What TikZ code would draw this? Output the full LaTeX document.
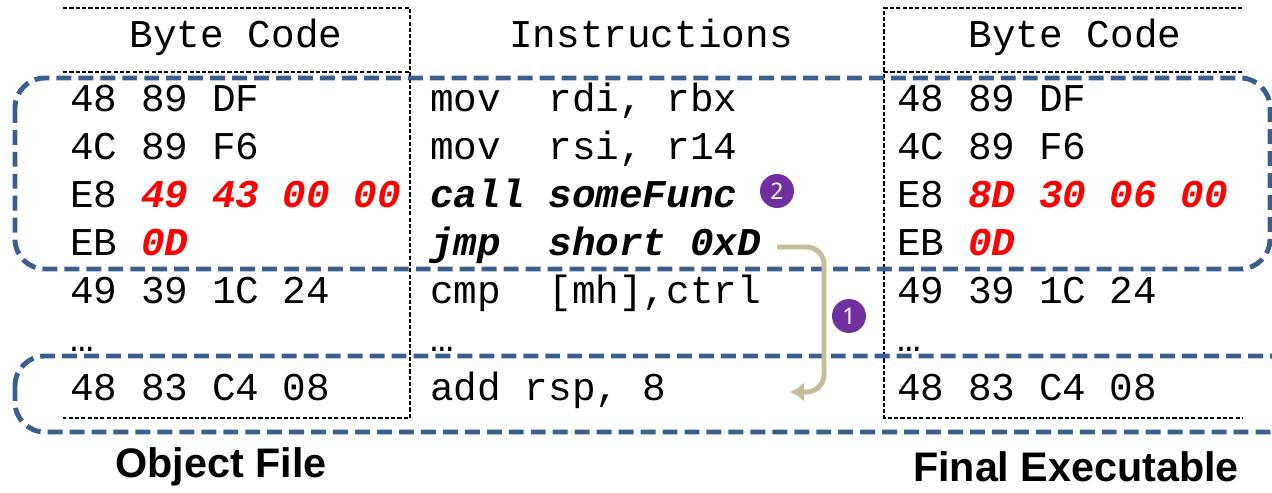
\documentclass[tikz,border=0pt]{standalone}
\usepackage{fontspec}
\setmainfont{Noto Sans}
\setsansfont{Noto Sans}
\setmonofont{Liberation Mono}
\newfontfamily\titlefont{Liberation Sans}
\usetikzlibrary{arrows.meta}
\definecolor{frameblue}{HTML}{3A5F8F}
\definecolor{hlred}{HTML}{FF0000}
\definecolor{numpurple}{HTML}{7030A0}
\definecolor{jumptan}{HTML}{C4BD97}
\newcommand{\codefont}{\ttfamily\fontsize{22.4}{26}\selectfont}
\newcommand{\hl}[1]{\textcolor{hlred}{\bfseries\itshape #1}}
\frenchspacing

\begin{document}
\begin{tikzpicture}[x=0.02cm, y=-0.02cm,
    code/.style = {anchor=base west, inner sep=0pt, font=\codefont},
    head/.style = {anchor=base, inner sep=0pt, font=\codefont},
    grid/.style = {black, line width=0.8pt, dash pattern=on 2.4pt off 1.2pt},
    group/.style = {frameblue, line width=2.8pt,
                dash pattern=on 8.5pt off 4pt, rounded corners=17pt},
    num/.style = {circle, fill=numpurple, text=white, minimum size=0.68cm,
                inner sep=0pt, font=\sffamily\fontsize{13}{13}\selectfont},
    jump/.style = {jumptan, line width=2.8pt, rounded corners=10pt,
                -{Latex[length=8pt,width=11pt]}},
    title/.style = {font=\titlefont\bfseries\fontsize{23.5}{24}\selectfont}
                    ]
    \useasboundingbox (0,0) rectangle (1272,493);
    % column x and row baselines (px)
    \def\xl{70}
    \def\xm{430}
    \def\xr{897}
    \def\ya{112}
    \def\yb{160}
    \def\yc{208}
    \def\yd{256}
    \def\ye{304}
    \def\yf{352}
    \def\yg{400}
    % table frame
    \draw[grid] (63,8) -- (410,8) -- (410,418) -- (63,418);
    \draw[grid] (63,72) -- (410,72);
    \draw[grid] (1242,8) -- (884,8) -- (884,418) -- (1242,418);
    \draw[grid] (884,72) -- (1242,72);
    % groups
    \draw[group] (15,78) rectangle (1270,269);
    \draw[group] (15,356) rectangle (1300,432);
    % headers
    \node[head] (hdl) at (236,48) {Byte Code};
    \node[head] (hdm) at (651,48) {Instructions};
    \node[head] (hdr) at (1075,48) {Byte Code};
    % object file bytes
    \node[code] (l1) at (\xl,\ya) {48 89 DF};
    \node[code] (l2) at (\xl,\yb) {4C 89 F6};
    \node[code] (l3) at (\xl,\yc) {E8 \hl{49 43 00 00}};
    \node[code] (l4) at (\xl,\yd) {EB \hl{0D}};
    \node[code] (l5) at (\xl,\ye) {49 39 1C 24};
    \node[code] (l6) at (\xl,\yf) {…};
    \node[code] (l7) at (\xl,\yg) {48 83 C4 08};
    % instructions
    \node[code] (m1) at (\xm,\ya) {mov\ \ rdi, rbx};
    \node[code] (m2) at (\xm,\yb) {mov\ \ rsi, r14};
    \node[code] (m3) at (\xm,\yc) {\bfseries\itshape call someFunc};
    \node[code] (m4) at (\xm,\yd) {\bfseries\itshape jmp\ \ short 0xD};
    \node[code] (m5) at (\xm,\ye) {cmp\ \ [mh],ctrl};
    \node[code] (m6) at (\xm,\yf) {…};
    \node[code] (m7) at (\xm,\yg) {add rsp, 8};
    % final executable bytes
    \node[code] (r1) at (\xr,\ya) {48 89 DF};
    \node[code] (r2) at (\xr,\yb) {4C 89 F6};
    \node[code] (r3) at (\xr,\yc) {E8 \hl{8D 30 06 00}};
    \node[code] (r4) at (\xr,\yd) {EB \hl{0D}};
    \node[code] (r5) at (\xr,\ye) {49 39 1C 24};
    \node[code] (r6) at (\xr,\yf) {…};
    \node[code] (r7) at (\xr,\yg) {48 83 C4 08};
    % jump target
    \coordinate (jfrom) at (777,247);
    \coordinate (jto) at (790,392);
    \draw[jump] (jfrom) -- (824,247) -- (824,392) -- (jto);
    \node[num] (n2) at (777,191) {2};
    \node[num] (n1) at (849,316) {1};
    % captions
    \node[title] (objfile) at (221,467) {Object File};
    \node[title] (finalexe) at (1076,467) {Final Executable};
\end{tikzpicture}
\end{document}
